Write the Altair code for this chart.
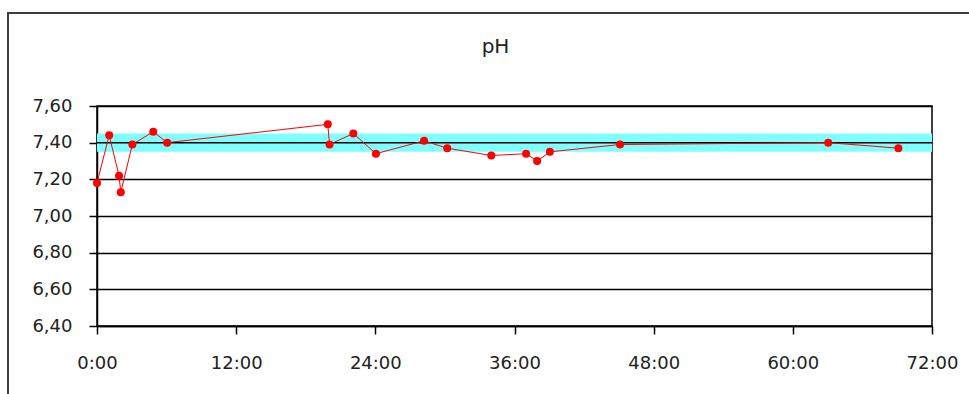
import altair as alt
import pandas as pd

# Elapsed time in hours and measured pH
hours = [0.0, 1.05, 1.9, 2.05, 3.05, 4.85, 6.05, 19.9, 20.05, 22.1, 24.05,
         28.2, 30.2, 34.0, 37.0, 37.95, 39.05, 45.1, 63.05, 69.1]
ph = [7.18, 7.44, 7.22, 7.13, 7.39, 7.46, 7.40, 7.50, 7.39, 7.45, 7.34,
      7.41, 7.37, 7.33, 7.34, 7.30, 7.35, 7.39, 7.40, 7.37]

# Normal range band and target value
band_start = [0]
band_end = [72]
band_low = [7.35]
band_high = [7.45]
target = [7.40]

x_ticks = [0, 12, 24, 36, 48, 60, 72]
y_ticks = [6.4, 6.6, 6.8, 7.0, 7.2, 7.4, 7.6]

FONT = "DejaVu Sans"

series = pd.DataFrame({"hours": hours, "ph": ph})
band = pd.DataFrame({"x0": band_start, "x1": band_end, "lo": band_low, "hi": band_high})
target_df = pd.DataFrame({"ph": target})

x_scale = alt.Scale(domain=[0, 72], nice=False, zero=False)
y_scale = alt.Scale(domain=[6.4, 7.6], nice=False, zero=False)

x_axis = alt.Axis(values=x_ticks, tickCount=20, labelExpr="datum.value + ':00'", grid=False,
                  tickSize=8, tickColor="#000", domainColor="#000", tickWidth=1.5,
                  domainWidth=1.5, labelPadding=20, labelFont=FONT, labelFontSize=18,
                  labelColor="#222", title=None, labelFlush=False, labelOverlap=False)
y_axis = alt.Axis(values=y_ticks, tickCount=20,
                  labelExpr="replace(format(datum.value, '.2f'), '.', ',')",
                  grid=True, gridColor="#000", gridWidth=1.5,
                  tickSize=8, tickColor="#000", domainColor="#000", tickWidth=1.5,
                  domainWidth=1.5, labelPadding=17, labelFont=FONT, labelFontSize=18,
                  labelColor="#222", title=None, labelFlush=False, labelOverlap=False)

band_layer = alt.Chart(band).mark_rect(color="#80FFFF").encode(
    x=alt.X("x0:Q", scale=x_scale, axis=x_axis),
    x2="x1:Q",
    y=alt.Y("lo:Q", scale=y_scale, axis=y_axis),
    y2="hi:Q",
)

target_layer = alt.Chart(target_df).mark_rule(color="#000", strokeWidth=1.5).encode(
    y=alt.Y("ph:Q", scale=y_scale)
)

line_layer = alt.Chart(series).mark_line(color="#FF0000", strokeWidth=1).encode(
    x=alt.X("hours:Q", scale=x_scale),
    y=alt.Y("ph:Q", scale=y_scale),
    order="hours:Q",
)

point_layer = alt.Chart(series).mark_circle(color="#FF0000", size=64, opacity=1).encode(
    x=alt.X("hours:Q", scale=x_scale),
    y=alt.Y("ph:Q", scale=y_scale),
)

# Outer chart-area border (top and left edges fall inside the page)
frame_layer = alt.Chart(pd.DataFrame({"k": [0]})).mark_rect(
    fill="transparent", stroke="#3c3c3c", strokeWidth=2
).encode(
    x=alt.value(-89), x2=alt.value(900), y=alt.value(-93), y2=alt.value(400)
)

chart = alt.layer(frame_layer, band_layer, target_layer, line_layer, point_layer).properties(
    width=835,
    height=220,
    title=alt.TitleParams("pH", anchor="middle", dx=-19, dy=61, fontSize=20, font=FONT,
                          fontWeight="normal", color="#222", baseline="alphabetic",
                          offset=0),
    autosize=alt.AutoSizeParams(type="none"),
    padding={"left": 97, "top": 106, "right": 37, "bottom": 68},
    background="#FFFFFF",
).configure_view(stroke="#000", strokeWidth=1.5)

chart.save("out.html", embed_options={"renderer": "svg", "actions": False})
